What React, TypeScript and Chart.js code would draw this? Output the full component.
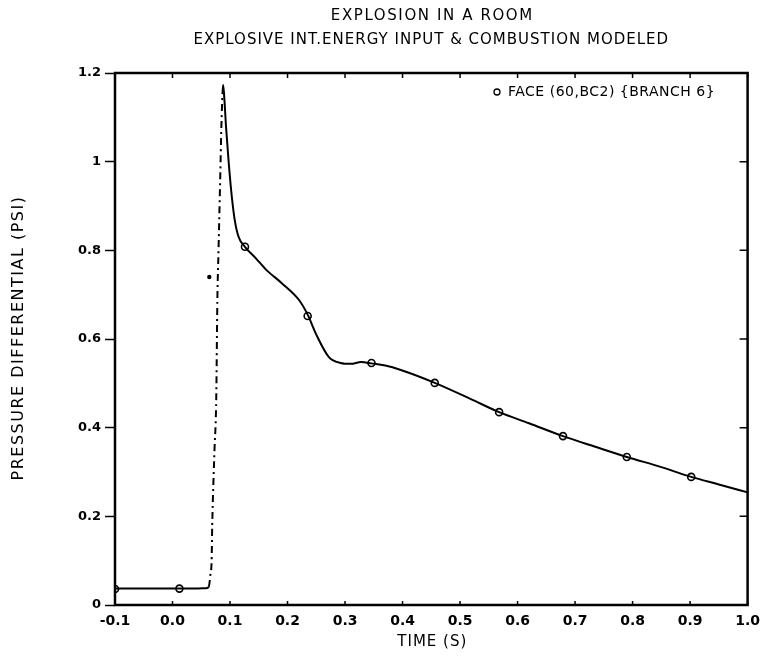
import React, { useEffect, useRef } from "react";
import { Chart, registerables } from "chart.js";

Chart.register(...registerables);

const TITLE_LINE_1 = "EXPLOSION IN A ROOM";
const TITLE_LINE_2 = "EXPLOSIVE INT.ENERGY INPUT & COMBUSTION MODELED";
const X_TITLE = "TIME (S)";
const Y_TITLE = "PRESSURE DIFFERENTIAL (PSI)";
const LEGEND_LABEL = "FACE (60,BC2) {BRANCH 6}";

const X_TICKS = [-0.1, 0.0, 0.1, 0.2, 0.3, 0.4, 0.5, 0.6, 0.7, 0.8, 0.9, 1.0];
const Y_TICKS = [0, 0.2, 0.4, 0.6, 0.8, 1.0, 1.2];

// Curve (time in s, pressure differential in psi)
const curveTime = [
  -0.1, -0.05, 0.0, 0.015, 0.04, 0.058, 0.063, 0.066, 0.068, 0.069, 0.073, 0.076,
  0.078, 0.08, 0.083, 0.085, 0.087, 0.088, 0.09, 0.093, 0.097, 0.102, 0.108, 0.115,
  0.126, 0.145, 0.163, 0.19, 0.22, 0.235, 0.25, 0.272, 0.292, 0.31, 0.328, 0.346,
  0.37, 0.397, 0.456, 0.518, 0.568, 0.62, 0.679, 0.735, 0.79, 0.85, 0.902, 0.95, 1.0,
];
const curvePressure = [
  0.037, 0.037, 0.037, 0.037, 0.037, 0.038, 0.041, 0.07, 0.1, 0.176, 0.35, 0.462,
  0.688, 0.8, 0.966, 1.08, 1.155, 1.173, 1.145, 1.08, 1.01, 0.935, 0.87, 0.83,
  0.808, 0.782, 0.756, 0.726, 0.688, 0.655, 0.61, 0.559, 0.546, 0.544, 0.548, 0.545,
  0.54, 0.53, 0.501, 0.465, 0.435, 0.41, 0.381, 0.357, 0.334, 0.311, 0.289, 0.272, 0.254,
];

// Symbol markers along the curve
const markerTime = [-0.1, 0.012, 0.126, 0.235, 0.346, 0.456, 0.568, 0.679, 0.79, 0.902];
const markerPressure = [0.036, 0.037, 0.808, 0.652, 0.546, 0.501, 0.435, 0.381, 0.334, 0.289];

// Isolated dot near the rise
const dotTime = [0.064];
const dotPressure = [0.74];

const FONT = "'DejaVu Sans', sans-serif";

const decoPlugin = {
  id: "deco",
  afterDraw(chart: any) {
    const { ctx, chartArea } = chart;
    const { left, right, top, bottom } = chartArea;
    const xs = chart.scales.x;
    const ys = chart.scales.y;
    ctx.save();
    ctx.strokeStyle = "#000";
    ctx.fillStyle = "#000";

    // frame
    ctx.lineWidth = 2.5;
    ctx.strokeRect(left, top, right - left, bottom - top);

    // inner ticks
    ctx.lineWidth = 1.5;
    ctx.beginPath();
    X_TICKS.forEach((v) => {
      const px = xs.getPixelForValue(v);
      ctx.moveTo(px, top);
      ctx.lineTo(px, top + 5);
      ctx.moveTo(px, bottom);
      ctx.lineTo(px, bottom - 4);
    });
    Y_TICKS.forEach((v) => {
      const py = ys.getPixelForValue(v);
      ctx.moveTo(right, py);
      ctx.lineTo(right - 8, py);
    });
    ctx.stroke();

    // titles
    ctx.textAlign = "center";
    ctx.textBaseline = "middle";
    ctx.font = `15px ${FONT}`;
    const cx = (left + right) / 2;
    (ctx as any).letterSpacing = "1.6px";
    ctx.fillText(TITLE_LINE_1, cx + 1, 16);
    (ctx as any).letterSpacing = "1px";
    ctx.fillText(TITLE_LINE_2, cx, 40);
    ctx.fillText(X_TITLE, cx + 1, 642);

    // y title
    ctx.save();
    ctx.font = `16px ${FONT}`;
    (ctx as any).letterSpacing = "1.5px";
    ctx.translate(19, 338);
    ctx.rotate(-Math.PI / 2);
    ctx.fillText(Y_TITLE, 0, 0);
    ctx.restore();

    // legend
    ctx.font = `14px ${FONT}`;
    (ctx as any).letterSpacing = "0.5px";
    ctx.textAlign = "left";
    ctx.lineWidth = 1.3;
    ctx.beginPath();
    ctx.arc(497, 92, 3, 0, Math.PI * 2);
    ctx.fillStyle = "#fff";
    ctx.fill();
    ctx.stroke();
    ctx.fillStyle = "#000";
    ctx.fillText(LEGEND_LABEL, 508, 92);
    ctx.restore();
  },
};

export default function App() {
  const ref = useRef<HTMLCanvasElement>(null);

  useEffect(() => {
    if (!ref.current) return;
    const chart = new Chart(ref.current, {
      type: "line",
      data: {
        datasets: [
          {
            label: "curve",
            data: curveTime.map((t, i) => ({ x: t, y: curvePressure[i] })),
            borderColor: "#000",
            borderWidth: 2,
            pointRadius: 0,
            cubicInterpolationMode: "monotone",
            fill: false,
            segment: {
              borderDash: (c: any) =>
                c.p1.parsed.y - c.p0.parsed.y > 0.025 ? [7, 4, 2, 4] : undefined,
            },
          },
          {
            label: LEGEND_LABEL,
            data: markerTime.map((t, i) => ({ x: t, y: markerPressure[i] })),
            showLine: false,
            pointStyle: "circle",
            pointRadius: 3.5,
            pointBorderWidth: 1.6,
            pointBackgroundColor: "#fff",
            pointBorderColor: "#000",
            borderColor: "#000",
          },
          {
            label: "dot",
            data: dotTime.map((t, i) => ({ x: t, y: dotPressure[i] })),
            showLine: false,
            pointRadius: 2.2,
            pointBorderWidth: 0,
            pointBackgroundColor: "#000",
            borderColor: "#000",
          },
        ],
      },
      options: {
        responsive: false,
        animation: false,
        devicePixelRatio: 1,
        layout: { padding: { top: 73, right: 16, left: 0, bottom: 0 } },
        plugins: {
          legend: { display: false },
          title: { display: false },
          tooltip: { enabled: false },
        },
        scales: {
          x: {
            type: "linear",
            min: -0.1,
            max: 1.0,
            afterFit: (s: any) => {
              s.height = 57;
            },
            afterBuildTicks: (s: any) => {
              s.ticks = X_TICKS.map((v) => ({ value: v }));
            },
            ticks: {
              color: "#000",
              font: { family: FONT, size: 14, weight: "bold" },
              padding: 8,
              maxRotation: 0,
              autoSkip: false,
              callback: (v: any) => Number(v).toFixed(1),
            },
            grid: { drawOnChartArea: false, drawTicks: false },
            border: { display: false },
          },
          y: {
            type: "linear",
            min: 0,
            max: 1.2,
            afterFit: (s: any) => {
              s.width = 115;
            },
            afterBuildTicks: (s: any) => {
              s.ticks = Y_TICKS.map((v) => ({ value: v }));
            },
            ticks: {
              color: "#000",
              font: { family: FONT, size: 13, weight: "bold" },
              padding: 4,
              autoSkip: false,
              callback: (v: any) => {
                const n = Number(v);
                if (Math.abs(n) < 1e-9) return "0";
                if (Math.abs(n - 1) < 1e-9) return "1";
                return n.toFixed(1);
              },
            },
            grid: {
              drawOnChartArea: false,
              drawTicks: true,
              tickLength: 10,
              tickColor: "#000",
              tickWidth: 1.5,
            },
            border: { display: false },
          },
        },
      },
      plugins: [decoPlugin],
    });
    return () => chart.destroy();
  }, []);

  return (
    <div style={{ position: "absolute", left: 0, top: 0, width: 768, height: 662, background: "#fff" }}>
      <canvas ref={ref} width={768} height={662} style={{ width: 768, height: 662, display: "block" }} />
    </div>
  );
}
